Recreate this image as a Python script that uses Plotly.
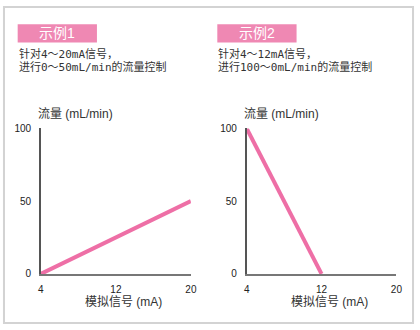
import plotly.graph_objects as go

# Data
signal_ticks = [4, 12, 20]
flow_ticks = [0, 50, 100]
ex1_signal = [4, 20]
ex1_flow = [0, 50]
ex2_signal = [4, 12]
ex2_flow = [100, 0]
titles = ["示例1", "示例2"]
desc1 = ["针对4～20mA信号，", "进行0～50mL/min的流量控制"]
desc2 = ["针对4～12mA信号，", "进行100～0mL/min的流量控制"]
xtitle = "模拟信号 (mA)"
ytitle = "流量 (mL/min)"

W, H = 420, 330
PINK = "#ee6fa6"
BOX = "#ef88b3"
TXT = "#333333"
CJK = "Liberation Sans, Noto Sans CJK SC"
MONO = "DejaVu Sans Mono, Noto Sans CJK SC"

def px(x):
    return x / W

def py(y):
    return (H - y) / H

fig = go.Figure()
fig.add_trace(go.Scatter(x=ex1_signal, y=ex1_flow, mode="lines",
                         line=dict(color=PINK, width=4), cliponaxis=False,
                         xaxis="x", yaxis="y", showlegend=False, hoverinfo="skip"))
fig.add_trace(go.Scatter(x=ex2_signal, y=ex2_flow, mode="lines",
                         line=dict(color=PINK, width=4), cliponaxis=False,
                         xaxis="x2", yaxis="y2", showlegend=False, hoverinfo="skip"))

y_dom = [py(278), py(127)]
x_doms = [[px(38.7), px(192)], [px(249), px(402)]]

tickfont = dict(family="Liberation Sans", size=10, color="#222222")
common_x = dict(range=[4, 20], tickvals=signal_ticks, ticktext=[str(v) for v in signal_ticks],
                showgrid=False, zeroline=False, showline=True, linecolor="#777777", linewidth=1.5,
                ticks="", ticklabelstandoff=5, tickfont=tickfont, fixedrange=True)
common_y = dict(range=[0, 100], tickvals=flow_ticks, ticktext=[str(v) for v in flow_ticks],
                showgrid=False, zeroline=False, showline=True, linecolor="#555555", linewidth=1.5,
                ticks="", ticklabelstandoff=6, tickfont=tickfont, domain=y_dom, fixedrange=True)

fig.update_layout(
    width=W, height=H, margin=dict(l=0, r=0, t=0, b=0),
    paper_bgcolor="white", plot_bgcolor="white",
    xaxis=dict(domain=x_doms[0], anchor="y", **common_x),
    yaxis=dict(anchor="x", **common_y),
    xaxis2=dict(domain=x_doms[1], anchor="y2", **common_x),
    yaxis2=dict(anchor="x2", **common_y),
)

shapes = [dict(type="rect", xref="paper", yref="paper", x0=px(1), x1=px(419), y0=py(329), y1=py(1),
               line=dict(color="#d3d3d3", width=2), fillcolor="rgba(0,0,0,0)", layer="below")]
annotations = []
box_x = [(15, 96), (219, 300)]
descs = [desc1, desc2]
text_x = [15, 219]
for i in range(2):
    x0, x1 = box_x[i]
    shapes.append(dict(type="rect", xref="paper", yref="paper", x0=px(x0), x1=px(x1),
                       y0=py(38), y1=py(19), fillcolor=BOX, line=dict(width=0), layer="below"))
    annotations.append(dict(xref="paper", yref="paper", x=px((x0 + x1) / 2), y=py(28.5),
                            text=titles[i], showarrow=False, xanchor="center", yanchor="middle",
                            font=dict(family=CJK, size=14, color="white")))
    for j, line in enumerate(descs[i]):
        annotations.append(dict(xref="paper", yref="paper", x=px(text_x[i]), y=py(50 + 13 * j),
                                text=line, showarrow=False, xanchor="left", yanchor="middle",
                                borderpad=0,
                                font=dict(family=MONO, size=11, color=TXT)))
    xref = "x" if i == 0 else "x2"
    annotations.append(dict(xref=xref + " domain", yref="paper", x=0.55, y=py(307),
                            text=xtitle, showarrow=False, xanchor="center", yanchor="middle",
                            borderpad=0,
                            font=dict(family=CJK, size=12, color=TXT)))
    annotations.append(dict(xref=xref + " domain", yref="paper", x=-0.025, y=py(112),
                            text=ytitle, showarrow=False, xanchor="left", yanchor="middle",
                            borderpad=0,
                            font=dict(family=CJK, size=12, color=TXT)))

fig.update_layout(shapes=shapes, annotations=annotations)
fig.write_html("out.html")
